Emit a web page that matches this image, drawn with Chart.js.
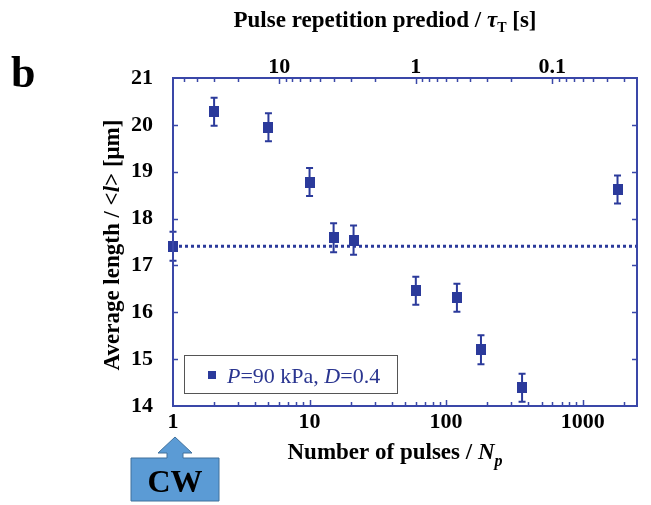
<!DOCTYPE html>
<html><head><meta charset="utf-8">
<script src="https://cdn.jsdelivr.net/npm/chart.js@4"></script>
<style>html,body{margin:0;padding:0;background:#fff}#wrap{width:651px;height:505px;position:relative}</style>
</head><body><div id="wrap"><canvas id="c" width="651" height="505"></canvas></div>
<script>
// ---- data ----
const pulses  = [1, 2, 5, 10, 15, 21, 60, 120, 180, 360, 1800];
const lengths = [17.41, 20.28, 19.95, 18.78, 17.59, 17.54, 16.46, 16.31, 15.20, 14.39, 18.62];
const errors  = [0.31, 0.30, 0.30, 0.30, 0.31, 0.31, 0.30, 0.30, 0.31, 0.30, 0.30];
const cwLevel = 17.41;
const xTicks = [1, 10, 100, 1000];
const periodTicks = [10, 1, 0.1];
const yTicks = [14, 15, 16, 17, 18, 19, 20, 21];
const xRange = [1, 2500];
const periodFactor = 60;          // tau_T = 60 / N_p
const yRange = [14, 21];

const BLUE = '#2b3a9b';
const FRAME = '#3a47a8';
const SERIF = '"Liberation Serif", "Times New Roman", serif';

function marker(w, h, color) {
  const c = document.createElement('canvas');
  c.width = w; c.height = h;
  const g = c.getContext('2d');
  g.fillStyle = color; g.fillRect(0, 0, w, h);
  return c;
}
const pointImg = marker(10, 11, BLUE);

function richText(ctx, segs, x, y, align) {
  let total = 0;
  segs.forEach(s => { ctx.font = s.font; total += ctx.measureText(s.t).width; });
  let cx = align === 'center' ? x - total / 2 : x;
  ctx.textBaseline = 'alphabetic';
  ctx.textAlign = 'left';
  segs.forEach(s => {
    ctx.font = s.font;
    ctx.fillStyle = s.color || '#000';
    ctx.fillText(s.t, cx, y + (s.dy || 0));
    cx += ctx.measureText(s.t).width;
  });
}

const decorPlugin = {
  id: 'decor',
  beforeDatasetsDraw(chart) {
    const ctx = chart.ctx, xs = chart.scales.x, ys = chart.scales.y;
    ctx.save();
    ctx.strokeStyle = BLUE; ctx.lineWidth = 2;
    pulses.forEach((p, i) => {
      const px = xs.getPixelForValue(p);
      const top = ys.getPixelForValue(lengths[i] + errors[i]);
      const bot = ys.getPixelForValue(lengths[i] - errors[i]);
      ctx.beginPath();
      ctx.moveTo(px, top); ctx.lineTo(px, bot);
      ctx.moveTo(px - 3.5, top); ctx.lineTo(px + 3.5, top);
      ctx.moveTo(px - 3.5, bot); ctx.lineTo(px + 3.5, bot);
      ctx.stroke();
    });
    ctx.restore();
  },
  afterDraw(chart) {
    const ctx = chart.ctx, a = chart.chartArea;
    const xs = chart.scales.x, x2 = chart.scales.x2, ys = chart.scales.y;
    ctx.save();
    // frame
    ctx.strokeStyle = FRAME; ctx.lineWidth = 2;
    ctx.strokeRect(a.left, a.top, a.right - a.left, a.bottom - a.top);
    ctx.lineWidth = 1.5;
    ctx.beginPath();
    // bottom ticks
    for (let d = 1; d <= 1000; d *= 10) {
      for (let m = 1; m <= 9; m++) {
        const v = m * d;
        if (v <= xRange[0] || v >= xRange[1]) continue;
        const px = Math.round(xs.getPixelForValue(v)) + 0.5;
        const len = m === 1 ? 6 : 4;
        ctx.moveTo(px, a.bottom); ctx.lineTo(px, a.bottom - len);
      }
    }
    // top ticks (period)
    const tMin = periodFactor / xRange[1], tMax = periodFactor / xRange[0];
    for (let d = 0.01; d <= 10.0001; d *= 10) {
      for (let m = 1; m <= 9; m++) {
        const v = m * d;
        if (v <= tMin || v >= tMax) continue;
        const px = Math.round(x2.getPixelForValue(v)) + 0.5;
        const len = m === 1 ? 6 : 4;
        ctx.moveTo(px, a.top); ctx.lineTo(px, a.top + len);
      }
    }
    // y ticks
    yTicks.forEach(v => {
      if (v <= yRange[0] || v >= yRange[1]) return;
      const py = Math.round(ys.getPixelForValue(v)) + 0.5;
      ctx.moveTo(a.left, py); ctx.lineTo(a.left + 5, py);
      ctx.moveTo(a.right, py); ctx.lineTo(a.right - 5, py);
    });
    ctx.stroke();

    // axis titles
    const B = 'bold 23px ' + SERIF, BI = 'italic bold 23px ' + SERIF;
    richText(ctx, [
      {t: 'Number of pulses / ', font: B},
      {t: 'N', font: BI},
      {t: 'p', font: 'italic bold 16px ' + SERIF, dy: 7}
    ], 395, 459, 'center');
    richText(ctx, [
      {t: 'Pulse repetition prediod / ', font: B},
      {t: 'τ', font: BI},
      {t: 'T', font: 'bold 14px ' + SERIF, dy: 5},
      {t: ' [s]', font: B}
    ], 385, 27, 'center');
    ctx.save();
    ctx.translate(119, 245);
    ctx.rotate(-Math.PI / 2);
    richText(ctx, [
      {t: 'Average length / <', font: B},
      {t: 'l', font: BI},
      {t: '> [μm]', font: B}
    ], 0, 0, 'center');
    ctx.restore();

    // panel letter
    ctx.fillStyle = '#000';
    ctx.font = 'bold 44px ' + SERIF;
    ctx.textAlign = 'left'; ctx.textBaseline = 'alphabetic';
    ctx.fillText('b', 11, 87);

    // legend
    ctx.strokeStyle = '#555'; ctx.lineWidth = 1;
    ctx.strokeRect(184.5, 355.5, 213, 38);
    ctx.fillStyle = BLUE;
    ctx.fillRect(208, 371, 8, 8);
    const LC = '#2a3590';
    richText(ctx, [
      {t: 'P', font: 'italic 22px ' + SERIF, color: LC},
      {t: '=90 kPa, ', font: '22px ' + SERIF, color: LC},
      {t: 'D', font: 'italic 22px ' + SERIF, color: LC},
      {t: '=0.4', font: '22px ' + SERIF, color: LC}
    ], 227, 383, 'left');

    // CW arrow
    const tipX = xs.getPixelForValue(1) + 2;
    ctx.beginPath();
    ctx.moveTo(131, 458); ctx.lineTo(tipX - 8, 458); ctx.lineTo(tipX - 8, 453);
    ctx.lineTo(tipX - 17, 453); ctx.lineTo(tipX, 437); ctx.lineTo(tipX + 17, 453);
    ctx.lineTo(tipX + 8, 453); ctx.lineTo(tipX + 8, 458); ctx.lineTo(219, 458);
    ctx.lineTo(219, 501); ctx.lineTo(131, 501); ctx.closePath();
    ctx.fillStyle = '#5b9bd5'; ctx.fill();
    ctx.strokeStyle = '#41719c'; ctx.lineWidth = 1; ctx.stroke();
    ctx.fillStyle = '#000';
    ctx.font = 'bold 32px ' + SERIF;
    ctx.textAlign = 'center';
    ctx.fillText('CW', 175, 492);
    ctx.restore();
  }
};

const tickFont = {family: SERIF, size: 22, weight: 'bold', lineHeight: 1};

new Chart(document.getElementById('c'), {
  type: 'scatter',
  data: {
    datasets: [
      {
        label: 'P=90 kPa, D=0.4',
        data: pulses.map((p, i) => ({x: p, y: lengths[i]})),
        pointStyle: pointImg,
        showLine: false,
        backgroundColor: BLUE,
        borderColor: BLUE,
        clip: false,
        order: 1
      },
      {
        label: 'CW',
        data: [{x: xRange[0], y: cwLevel}, {x: xRange[1], y: cwLevel}],
        showLine: true,
        borderColor: BLUE,
        borderWidth: 3,
        borderDash: [3, 3],
        pointRadius: 0,
        order: 2
      }
    ]
  },
  options: {
    responsive: false,
    maintainAspectRatio: false,
    animation: false,
    devicePixelRatio: 1,
    layout: {padding: {right: 14, left: 0, top: 0, bottom: 0}},
    plugins: {legend: {display: false}, tooltip: {enabled: false}},
    scales: {
      x: {
        type: 'logarithmic', position: 'bottom',
        min: xRange[0], max: xRange[1],
        grid: {display: false, drawTicks: false}, border: {display: false},
        afterBuildTicks: s => { s.ticks = xTicks.map(v => ({value: v})); },
        afterFit: s => { s.height = 99; },
        ticks: {autoSkip: false, maxRotation: 0, padding: 5, color: '#000', font: tickFont,
                callback: v => String(v)}
      },
      x2: {
        type: 'logarithmic', position: 'top', reverse: true,
        min: periodFactor / xRange[1], max: periodFactor / xRange[0],
        grid: {display: false, drawTicks: false}, border: {display: false},
        afterBuildTicks: s => { s.ticks = periodTicks.map(v => ({value: v})); },
        afterFit: s => { s.height = 78; },
        ticks: {autoSkip: false, maxRotation: 0, padding: 0, color: '#000', font: tickFont,
                callback: v => String(v)}
      },
      y: {
        type: 'linear', position: 'left',
        min: yRange[0], max: yRange[1],
        grid: {display: false, drawTicks: false}, border: {display: false},
        afterBuildTicks: s => { s.ticks = yTicks.map(v => ({value: v})); },
        afterFit: s => { s.width = 173; },
        ticks: {autoSkip: false, padding: 20, color: '#000', font: tickFont,
                callback: v => String(v)}
      }
    }
  },
  plugins: [decorPlugin]
});
</script>
</body></html>
